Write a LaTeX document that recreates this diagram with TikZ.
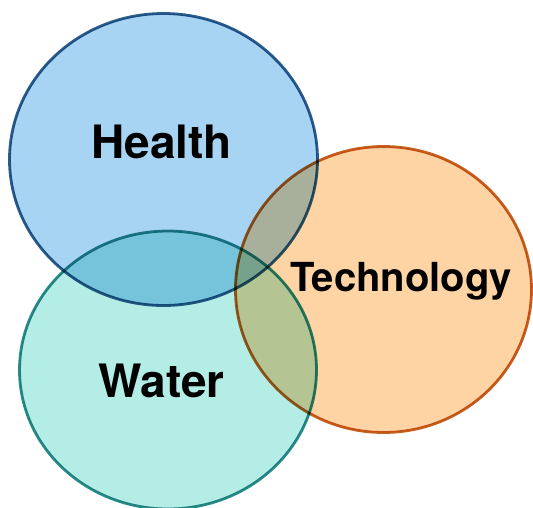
\documentclass[tikz,border=0pt]{standalone}
\usepackage{fontspec}
\setmainfont{TeX Gyre Heros}
\usetikzlibrary{shapes.geometric}
\definecolor{healthfill}{HTML}{A8D4F4}
\definecolor{healthline}{HTML}{2C5F8C}
\definecolor{techfill}{HTML}{FFD4A4}
\definecolor{techline}{HTML}{C4611E}
\definecolor{waterfill}{HTML}{B4ECE6}
\definecolor{waterline}{HTML}{2A8C8C}
\begin{document}
\begin{tikzpicture}[x=1pt,y=-1pt]
            \tikzset{
                circ/.style={ellipse, line width=2.8pt, inner sep=0pt},
                lbl/.style={font=\bfseries\fontsize{46}{52}\selectfont, text=black}
            }
            \useasboundingbox (0,0) rectangle (533,507);
            \begin{scope}[blend group=multiply]
            \node[circ, draw=healthline, fill=healthfill, minimum width=308pt, minimum height=292pt] (health) at (163.5,159.5) {};
            \node[circ, draw=techline, fill=techfill, minimum width=296pt, minimum height=286pt] (tech) at (383.5,289.5) {};
            \node[circ, draw=waterline, fill=waterfill, minimum width=297pt, minimum height=278pt] (water) at (168,370) {};
            \end{scope}
            \node[lbl] (hlabel) at (161.5,142) {Health};
            \node[lbl, font=\bfseries\fontsize{40}{46}\selectfont] (tlabel) at (401,281) {Technology};
            \node[lbl] (wlabel) at (161.5,381) {Water};
        \end{tikzpicture}
\end{document}
